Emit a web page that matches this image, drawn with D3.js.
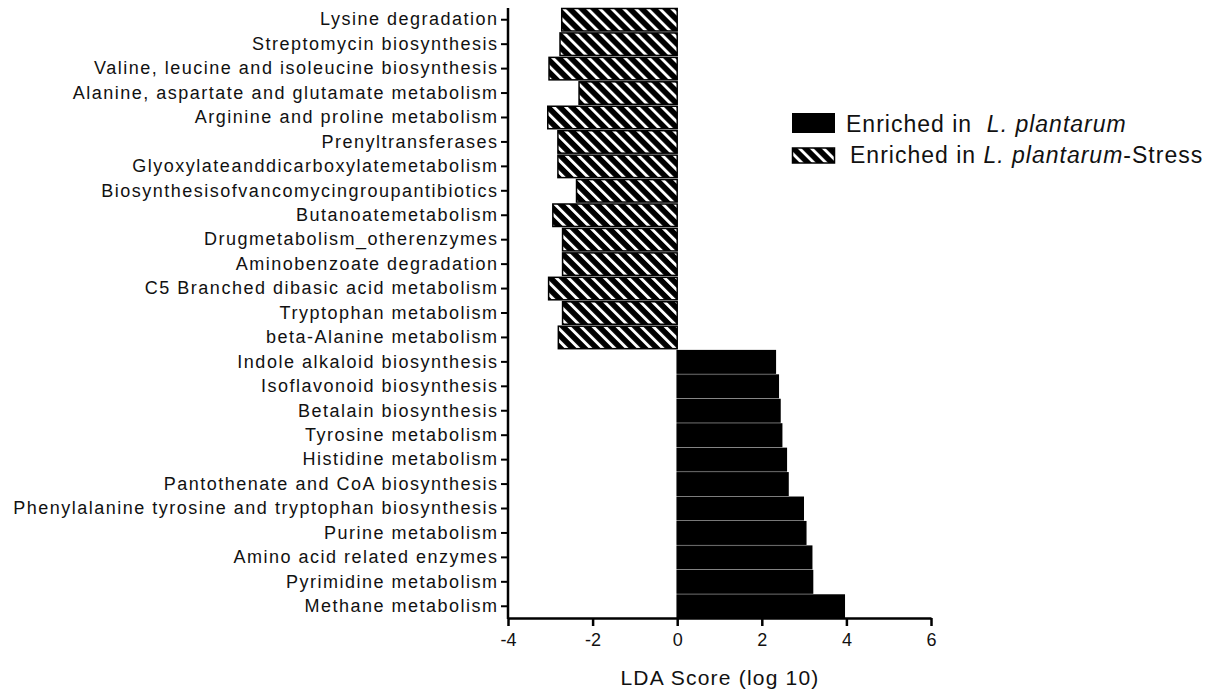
<!DOCTYPE html>
<html>
<head>
<meta charset="utf-8">
<script src="https://cdn.jsdelivr.net/npm/d3@7"></script>
<style>
  body { margin: 0; background: #fff; }
  text { font-family: "Liberation Sans", Arial, sans-serif; }
</style>
</head>
<body>
<div id="chart"></div>
<script>
// pathways from top to bottom
const stressPathways = ["Lysine degradation", "Streptomycin biosynthesis",
  "Valine, leucine and isoleucine biosynthesis", "Alanine, aspartate and glutamate metabolism",
  "Arginine and proline metabolism", "Prenyltransferases",
  "Glyoxylateanddicarboxylatemetabolism", "Biosynthesisofvancomycingroupantibiotics",
  "Butanoatemetabolism", "Drugmetabolism_otherenzymes", "Aminobenzoate degradation",
  "C5 Branched dibasic acid metabolism", "Tryptophan metabolism", "beta-Alanine metabolism"];
const stressScores = [-2.73, -2.77, -3.03, -2.32, -3.06, -2.82, -2.82, -2.38, -2.94, -2.71, -2.71, -3.04, -2.71, -2.81];

const plantPathways = ["Indole alkaloid biosynthesis", "Isoflavonoid biosynthesis",
  "Betalain biosynthesis", "Tyrosine metabolism", "Histidine metabolism",
  "Pantothenate and CoA biosynthesis", "Phenylalanine tyrosine and tryptophan biosynthesis",
  "Purine metabolism", "Amino acid related enzymes", "Pyrimidine metabolism", "Methane metabolism"];
const plantScores = [2.32, 2.39, 2.43, 2.47, 2.58, 2.62, 2.98, 3.04, 3.18, 3.20, 3.95];

const xTicks = [-4, -2, 0, 2, 4, 6];

const rows = stressPathways.map((p, i) => ({name: p, value: stressScores[i], group: "stress"}))
  .concat(plantPathways.map((p, i) => ({name: p, value: plantScores[i], group: "plant"})));

const w = 1214, h = 694;
const svg = d3.select('#chart').append('svg')
  .attr('width', w)
  .attr('height', h);

// hatch pattern for the stress group
const defs = svg.append('defs');
const pat = defs.append('pattern')
  .attr('id', 'hatch')
  .attr('patternUnits', 'userSpaceOnUse')
  .attr('width', 8.5)
  .attr('height', 8.5)
  .attr('patternTransform', 'rotate(-45)');
pat.append('rect').attr('width', 8.5).attr('height', 8.5).attr('fill', 'black');
pat.append('rect').attr('x', 0).attr('width', 2.9).attr('height', 8.5).attr('fill', 'white');

const x = d3.scaleLinear().domain([-4, 6]).range([508, 931]);
const y = d3.scaleBand()
  .domain(rows.map(d => d.name))
  .range([8, 618])
  .paddingInner(0.08)
  .paddingOuter(0.02);

// bars
svg.append('g').selectAll('rect')
  .data(rows)
  .enter()
  .append('rect')
  .attr('x', d => x(Math.min(0, d.value)))
  .attr('y', d => y(d.name))
  .attr('width', d => Math.abs(x(d.value) - x(0)))
  .attr('height', y.bandwidth())
  .attr('fill', d => d.group === 'stress' ? 'url(#hatch)' : 'black')
  .attr('stroke', 'black')
  .attr('stroke-width', 1.5);

// axes
const yAxis = svg.append('g')
  .attr('transform', 'translate(508,0)')
  .call(d3.axisLeft(y).tickSize(7).tickPadding(4).tickSizeOuter(0));
yAxis.select('.domain').attr('stroke-width', 2.5).attr('d', 'M0,8V619');
yAxis.selectAll('.tick line').attr('stroke-width', 2);
yAxis.selectAll('.tick text')
  .attr('font-size', 18)
  .attr('letter-spacing', '1.5px')
  .attr('dx', '1.5px')
  .attr('fill', '#111');

const xAxis = svg.append('g')
  .attr('transform', 'translate(0,618)')
  .call(d3.axisBottom(x).tickValues(xTicks).tickFormat(d => String(d)).tickSize(8).tickPadding(7).tickSizeOuter(0));
xAxis.select('.domain').attr('stroke-width', 2.5);
xAxis.selectAll('.tick line').attr('stroke-width', 2.5);
xAxis.selectAll('.tick text').attr('font-size', 18).attr('fill', '#111');

svg.append('text')
  .attr('x', 720)
  .attr('y', 685)
  .attr('text-anchor', 'middle')
  .attr('font-size', 21)
  .attr('letter-spacing', '1.2px')
  .attr('fill', '#111')
  .text('LDA Score (log 10)');

// legend
const legend = svg.append('g');
legend.append('rect').attr('x', 792).attr('y', 113).attr('width', 43).attr('height', 20).attr('fill', 'black');
legend.append('rect').attr('x', 792.5).attr('y', 148).attr('width', 42).attr('height', 15)
  .attr('fill', 'url(#hatch)').attr('stroke', 'black').attr('stroke-width', 1.5);

const t1 = legend.append('text').attr('x', 846).attr('y', 132).attr('font-size', 23)
  .attr('letter-spacing', '1px').attr('fill', '#111');
t1.append('tspan').text('Enriched in\u00a0\u00a0');
t1.append('tspan').attr('font-style', 'italic').text('L. plantarum');

const t2 = legend.append('text').attr('x', 850).attr('y', 163).attr('font-size', 23)
  .attr('letter-spacing', '1px').attr('fill', '#111');
t2.append('tspan').text('Enriched in ');
t2.append('tspan').attr('font-style', 'italic').text('L. plantarum');
t2.append('tspan').text('-Stress');
</script>
</body>
</html>
